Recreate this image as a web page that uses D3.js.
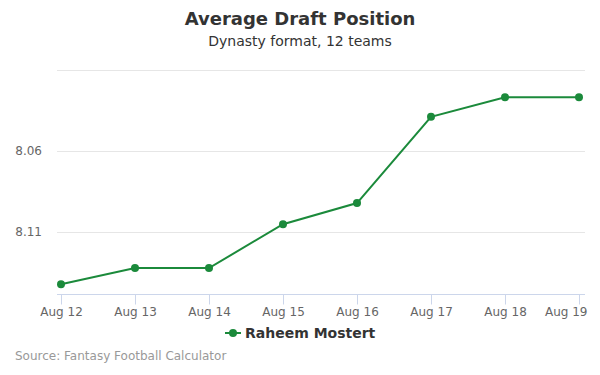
<!DOCTYPE html>
<html lang="en">
<head>
<meta charset="utf-8">
<title>Average Draft Position</title>
<script src="https://cdn.jsdelivr.net/npm/d3@7"></script>
<style>
  body { margin: 0; background: #fff; }
  svg text { font-family: "DejaVu Sans", sans-serif; }
</style>
</head>
<body>
<script>
// data
var dates = ["Aug 12", "Aug 13", "Aug 14", "Aug 15", "Aug 16", "Aug 17", "Aug 18", "Aug 19"];
var adp = [8.142, 8.132, 8.132, 8.105, 8.092, 8.039, 8.027, 8.027];
var gridValues = [8.01, 8.06, 8.11];
var labelValues = [8.06, 8.11];
var playerName = "Raheem Mostert";

var w = 600, h = 375;
var green = "#1b8a3b";

var svg = d3.select("body").append("svg")
  .attr("width", w)
  .attr("height", h);

// scales (y is reversed: lower ADP on top)
var xScale = d3.scalePoint()
  .domain(dates)
  .range([61, 579]);

var yScale = d3.scaleLinear()
  .domain([8.06, 8.11])
  .range([151, 232.3]);

// gridlines
svg.append("g")
  .selectAll("line")
  .data(gridValues)
  .enter()
  .append("line")
  .attr("x1", 57)
  .attr("x2", 585)
  .attr("y1", function(d) { return Math.round(yScale(d)) + 0.5; })
  .attr("y2", function(d) { return Math.round(yScale(d)) + 0.5; })
  .attr("stroke", "#e6e6e6")
  .attr("stroke-width", 1);

// y labels
svg.append("g")
  .selectAll("text")
  .data(labelValues)
  .enter()
  .append("text")
  .attr("x", 42)
  .attr("y", function(d) { return yScale(d) + 4; })
  .attr("text-anchor", "end")
  .attr("font-size", "12px")
  .attr("fill", "#666")
  .text(function(d) { return d3.format(".2f")(d); });

// x axis
var xAxis = d3.axisBottom(xScale)
  .tickSize(10)
  .tickPadding(3);

var gx = svg.append("g")
  .attr("transform", "translate(0,294.5)")
  .call(xAxis);

gx.select(".domain")
  .attr("d", "M57,0H585")
  .attr("stroke", "#ccd6eb");
gx.selectAll(".tick line").attr("stroke", "#ccd6eb");
gx.selectAll(".tick text")
  .attr("font-size", "12px")
  .attr("font-family", "DejaVu Sans, sans-serif")
  .attr("fill", "#666");
// keep last label inside the chart
gx.selectAll(".tick text")
  .filter(function(d, i) { return i === dates.length - 1; })
  .attr("text-anchor", "end")
  .attr("x", 8);

// line
var line = d3.line()
  .x(function(d, i) { return xScale(dates[i]); })
  .y(function(d) { return yScale(d); });

svg.append("path")
  .datum(adp)
  .attr("d", line)
  .attr("fill", "none")
  .attr("stroke", green)
  .attr("stroke-width", 2);

svg.append("g")
  .selectAll("circle")
  .data(adp)
  .enter()
  .append("circle")
  .attr("cx", function(d, i) { return xScale(dates[i]); })
  .attr("cy", function(d) { return yScale(d); })
  .attr("r", 4)
  .attr("fill", green);

// title + subtitle
svg.append("text")
  .attr("x", w / 2)
  .attr("y", 25)
  .attr("text-anchor", "middle")
  .attr("font-size", "18px")
  .attr("font-weight", "bold")
  .attr("fill", "#333")
  .text("Average Draft Position");

svg.append("text")
  .attr("x", w / 2)
  .attr("y", 46)
  .attr("text-anchor", "middle")
  .attr("font-size", "14px")
  .attr("fill", "#333")
  .text("Dynasty format, 12 teams");

// legend
var legend = svg.append("g").attr("transform", "translate(225,333)");
legend.append("line")
  .attr("x1", 0).attr("x2", 16)
  .attr("y1", 0).attr("y2", 0)
  .attr("stroke", green)
  .attr("stroke-width", 2);
legend.append("circle")
  .attr("cx", 8).attr("cy", 0).attr("r", 4)
  .attr("fill", green);
legend.append("text")
  .attr("x", 20)
  .attr("y", 5)
  .attr("font-size", "14px")
  .attr("font-weight", "bold")
  .attr("fill", "#333")
  .text(playerName);

// credits
svg.append("text")
  .attr("x", 15)
  .attr("y", 360)
  .attr("font-size", "12px")
  .attr("fill", "#999")
  .text("Source: Fantasy Football Calculator");
</script>
</body>
</html>
